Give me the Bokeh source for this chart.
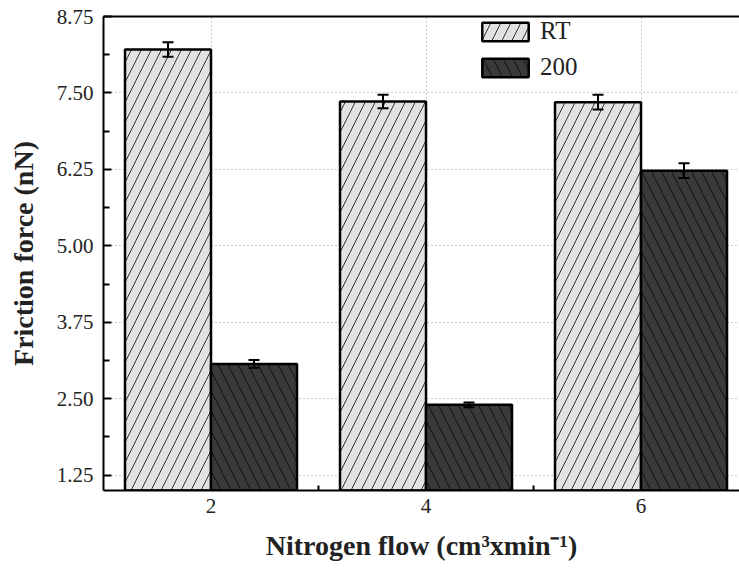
from bokeh.plotting import figure
from bokeh.models import (ColumnDataSource, Whisker, TeeHead, FixedTicker, LinearAxis,
                          PrintfTickFormatter, Range1d)
from bokeh.embed import file_html
from bokeh.resources import INLINE

# ---- data ----
flows = [2, 4, 6]
rt_values = [8.21, 7.36, 7.35]
rt_errors = [0.12, 0.11, 0.12]
h200_values = [3.07, 2.40, 6.23]
h200_errors = [0.065, 0.04, 0.12]
y_ticks = [1.25, 2.50, 3.75, 5.00, 6.25, 7.50, 8.75]
y_minor = [1.875, 3.125, 4.375, 5.625, 6.875, 8.125]
x_ticks = [2, 4, 6]
x_minor = [3, 5]

BAR_W = 0.8
FONT = "Liberation Serif"

rt_src = ColumnDataSource(dict(
    x=[f - BAR_W / 2 for f in flows], top=rt_values,
    upper=[v + e for v, e in zip(rt_values, rt_errors)],
    lower=[v - e for v, e in zip(rt_values, rt_errors)]))
hs_src = ColumnDataSource(dict(
    x=[f + BAR_W / 2 for f in flows], top=h200_values,
    upper=[v + e for v, e in zip(h200_values, h200_errors)],
    lower=[v - e for v, e in zip(h200_values, h200_errors)]))

p = figure(width=739, height=576, output_backend="svg", toolbar_location=None,
           x_range=Range1d(1, 6.916), y_range=Range1d(1.0, 8.75),
           min_border_left=103, min_border_right=0, min_border_top=16,
           min_border_bottom=86)
p.outline_line_color = None
p.background_fill_color = "white"
p.border_fill_color = "white"

# grid
for g in (p.xgrid, p.ygrid):
    g.grid_line_color = "#9a9a9a"
    g.grid_line_dash = "1 3"
    g.grid_line_width = 1
p.xgrid.ticker = FixedTicker(ticks=x_ticks)
p.ygrid.ticker = FixedTicker(ticks=y_ticks)

# bars
p.vbar(x="x", top="top", bottom=1.0, width=BAR_W, source=rt_src,
       fill_color="#e2e2e2", line_color="black", line_width=2.5,
       hatch_pattern="right_diagonal_line", hatch_color="#333333",
       hatch_scale=20, hatch_weight=1, legend_label="RT")
p.vbar(x="x", top="top", bottom=1.0, width=BAR_W, source=hs_src,
       fill_color="#3a3a3a", line_color="black", line_width=2.5,
       hatch_pattern="left_diagonal_line", hatch_color="#111111",
       hatch_scale=20, hatch_weight=1, legend_label="200")

for src in (rt_src, hs_src):
    w = Whisker(source=src, base="x", upper="upper", lower="lower",
                line_color="black", line_width=2, level="overlay",
                upper_head=TeeHead(size=11, line_width=2, line_color="black"),
                lower_head=TeeHead(size=11, line_width=2, line_color="black"))
    p.add_layout(w)

# axes
p.xaxis.ticker = FixedTicker(ticks=x_ticks, minor_ticks=x_minor)
p.xaxis.axis_label = "Nitrogen flow (cm³xmin⁻¹)"
p.yaxis.ticker = FixedTicker(ticks=y_ticks, minor_ticks=y_minor)
p.yaxis.formatter = PrintfTickFormatter(format="%.2f")
p.yaxis.axis_label = "Friction force (nN)"

for ax in (p.xaxis, p.yaxis):
    ax.axis_line_width = 2
    ax.axis_line_color = "black"
    ax.major_tick_out = 0
    ax.minor_tick_out = 0
    ax.major_tick_line_color = "black"
    ax.minor_tick_line_color = "black"
    ax.major_tick_line_width = 2
    ax.minor_tick_line_width = 2
    ax.major_label_text_font = FONT
    ax.major_label_text_font_size = "21px"
    ax.major_label_text_font_style = "normal"
    ax.major_label_text_color = "#222222"
    ax.axis_label_text_font = FONT
    ax.axis_label_text_font_style = "bold"
    ax.axis_label_text_font_size = "28px"
    ax.axis_label_text_color = "#222222"

p.xaxis.major_tick_in = 0
p.xaxis.minor_tick_in = 5
p.xaxis.major_label_standoff = 8
p.xaxis.axis_label_standoff = 14
p.yaxis.major_tick_in = 8
p.yaxis.minor_tick_in = 6
p.yaxis.major_label_standoff = 10
p.yaxis.axis_label_standoff = 15

top_axis = LinearAxis(ticker=FixedTicker(ticks=[]), major_label_text_font_size="0px",
                      axis_line_width=2, axis_line_color="black",
                      major_tick_in=0, major_tick_out=0,
                      minor_tick_in=0, minor_tick_out=0)
p.add_layout(top_axis, "above")

# legend
lg = p.legend[0]
lg.location = (373, 409)
lg.border_line_color = None
lg.background_fill_alpha = 0
lg.glyph_width = 58
lg.glyph_height = 23
lg.spacing = 8
lg.padding = 0
lg.margin = 0
lg.label_standoff = 6
lg.label_text_font = FONT
lg.label_text_font_size = "25px"
lg.label_text_color = "#222222"
lg.label_height = 23

open("out.html", "w").write(file_html(p, INLINE))
